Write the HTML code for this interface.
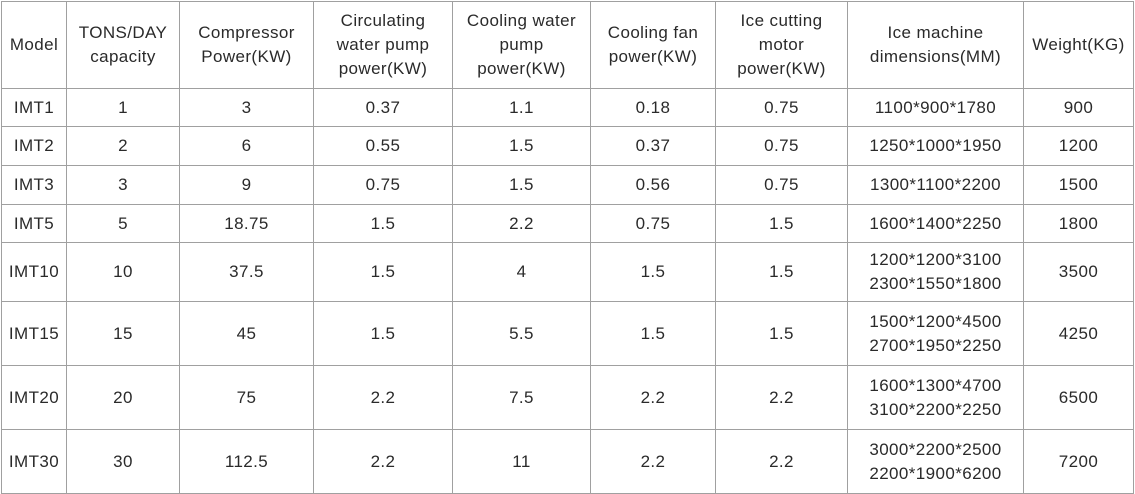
<!DOCTYPE html>
<html><head><meta charset="utf-8"><style>
html,body{margin:0;padding:0;background:#fff;width:1135px;height:493px;overflow:hidden}
table{position:absolute;left:1px;top:1px;border-collapse:collapse;table-layout:fixed;font-family:"Liberation Sans",sans-serif;font-size:17px;letter-spacing:0.4px;color:#2a2a2a}
td{border:1px solid #a0a0a0;text-align:center;vertical-align:middle;padding:0;line-height:24px;white-space:nowrap}
</style></head><body>
<table>
<colgroup><col style="width:65px"><col style="width:113px"><col style="width:134px"><col style="width:139px"><col style="width:138px"><col style="width:125px"><col style="width:132px"><col style="width:176px"><col style="width:110px"></colgroup>
<tr style="height:87px"><td>Model</td><td>TONS/DAY<br>capacity</td><td>Compressor<br>Power(KW)</td><td>Circulating<br>water pump<br>power(KW)</td><td>Cooling water<br>pump<br>power(KW)</td><td>Cooling fan<br>power(KW)</td><td>Ice cutting<br>motor<br>power(KW)</td><td>Ice machine<br>dimensions(MM)</td><td>Weight(KG)</td></tr>
<tr style="height:38px"><td>IMT1</td><td>1</td><td>3</td><td>0.37</td><td>1.1</td><td>0.18</td><td>0.75</td><td>1100*900*1780</td><td>900</td></tr>
<tr style="height:39px"><td>IMT2</td><td>2</td><td>6</td><td>0.55</td><td>1.5</td><td>0.37</td><td>0.75</td><td>1250*1000*1950</td><td>1200</td></tr>
<tr style="height:39px"><td>IMT3</td><td>3</td><td>9</td><td>0.75</td><td>1.5</td><td>0.56</td><td>0.75</td><td>1300*1100*2200</td><td>1500</td></tr>
<tr style="height:38px"><td>IMT5</td><td>5</td><td>18.75</td><td>1.5</td><td>2.2</td><td>0.75</td><td>1.5</td><td>1600*1400*2250</td><td>1800</td></tr>
<tr style="height:59px"><td>IMT10</td><td>10</td><td>37.5</td><td>1.5</td><td>4</td><td>1.5</td><td>1.5</td><td>1200*1200*3100<br>2300*1550*1800</td><td>3500</td></tr>
<tr style="height:64px"><td>IMT15</td><td>15</td><td>45</td><td>1.5</td><td>5.5</td><td>1.5</td><td>1.5</td><td>1500*1200*4500<br>2700*1950*2250</td><td>4250</td></tr>
<tr style="height:64px"><td>IMT20</td><td>20</td><td>75</td><td>2.2</td><td>7.5</td><td>2.2</td><td>2.2</td><td>1600*1300*4700<br>3100*2200*2250</td><td>6500</td></tr>
<tr style="height:64px"><td>IMT30</td><td>30</td><td>112.5</td><td>2.2</td><td>11</td><td>2.2</td><td>2.2</td><td>3000*2200*2500<br>2200*1900*6200</td><td>7200</td></tr>
</table>
</body></html>
